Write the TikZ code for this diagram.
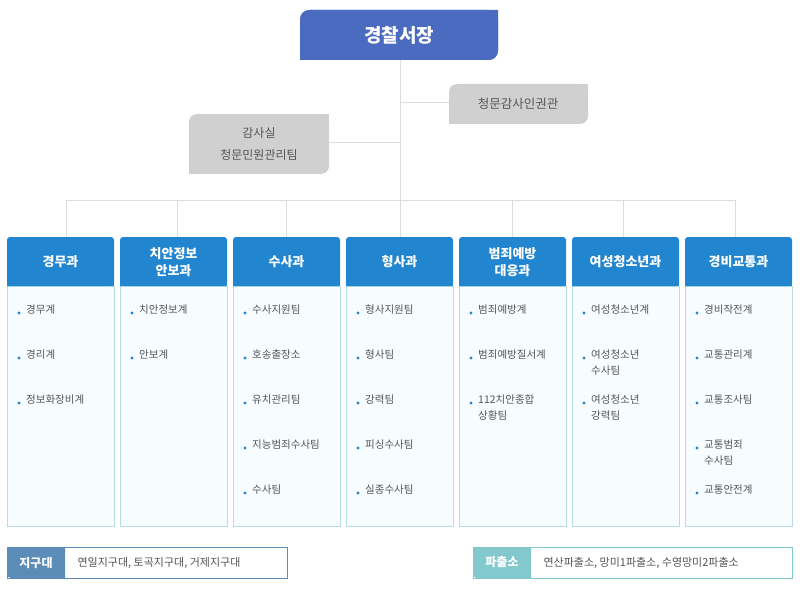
\documentclass[tikz,border=0pt]{standalone}
\usepackage{fontspec}
\setmainfont{Noto Sans CJK KR}
\definecolor{chief}{HTML}{4A6BBF}
\definecolor{hdr}{HTML}{2185CF}
\definecolor{bodyf}{HTML}{F7FDFE}
\definecolor{bodyd}{HTML}{B5DDE3}
\definecolor{grayb}{HTML}{D0D0D0}
\definecolor{txt}{HTML}{555555}
\definecolor{lnc}{HTML}{DDDDDD}
\definecolor{dot}{HTML}{2185CF}
\definecolor{jig}{HTML}{5B8DB8}
\definecolor{pac}{HTML}{82C8CC}
\begin{document}
\begin{tikzpicture}[x=1pt,y=-1pt,
  conn/.style={draw=lnc,line width=0.9pt},
  hdrtext/.style={text=white,font=\fontsize{13}{17}\selectfont\bfseries,align=center},
  item/.style={text=txt,font=\fontsize{10.5}{16}\selectfont,align=left,anchor=north west,inner sep=0pt},
  graytext/.style={text=txt,font=\fontsize{12.5}{22}\selectfont,align=center}]
\useasboundingbox (0,0) rectangle (800,599);
% connectors
\coordinate (top) at (400,60);
\coordinate (hub) at (400,200);
\draw[conn] (top) -- (400,237);
\draw[conn] (66,200) -- (735,200);
\foreach \x in {66,177,286,512,623,735} \draw[conn] (\x,200) -- (\x,237);
\draw[conn] (400,102) -- (449,102);
\draw[conn] (329,142) -- (400,142);
% chief
\fill[chief,rounded corners=9pt] (300,60) -- (300,10) [sharp corners]-- (498,10) -- (498,50) [rounded corners=9pt] -- (498,60) [sharp corners] -- cycle;
\fill[chief] (300,30) rectangle (320,60);
\fill[chief] (300,10) [rounded corners=9pt] -- (300,10) ;
\path[fill=chief,rounded corners=10pt] (300,60) |- (498,10) |- cycle;
\fill[chief] (488,10) rectangle (498,30);
\fill[chief] (300,50) rectangle (320,60);
\node[text=white,font=\fontsize{19}{22}\selectfont\bfseries] (chief) at (399,35) {경찰서장};
% gray boxes
\path[fill=grayb,rounded corners=8pt] (449,124) |- (588,84) |- cycle;
\fill[grayb] (578,84) rectangle (588,95);
\fill[grayb] (449,114) rectangle (460,124);
\node[graytext] (cm) at (518,104) {청문감사인권관};
\path[fill=grayb,rounded corners=8pt] (189,174) |- (329,114) |- cycle;
\fill[grayb] (319,114) rectangle (329,125);
\fill[grayb] (189,164) rectangle (200,174);
\node[graytext,font=\fontsize{12}{22}\selectfont] (gs) at (259,144) {감사실\\청문민원관리팀};
% columns
\foreach \i/\x/\t in {1/7/경무과,2/120/{치안정보\\안보과},3/233/수사과,4/346/형사과,5/459/{범죄예방\\대응과},6/572/여성청소년과,7/685/경비교통과}{
  \path[fill=bodyf,draw=bodyd,line width=0.8pt] (\x,286) rectangle ++(107,240);
  \path[fill=hdr,rounded corners=3pt] (\x,286) -- (\x,237) -- ++(107,0) -- ++(0,49) [sharp corners] -- cycle;
  \fill[hdr] (\x,270) rectangle ++(107,16);
  \node[hdrtext] (h\i) at ({\x+53.5},262) {\t};
}
\newcommand\itm[4]{\fill[dot] (#1+12,#2) circle (1.6pt); \node[item] (#3) at (#1+19,#2-8) {#4};}
\itm{7}{313}{a1}{경무계}
\itm{7}{358}{a2}{경리계}
\itm{7}{403}{a3}{정보화장비계}
\itm{120}{313}{b1}{치안정보계}
\itm{120}{358}{b2}{안보계}
\itm{233}{313}{c1}{수사지원팀}
\itm{233}{358}{c2}{호송출장소}
\itm{233}{403}{c3}{유치관리팀}
\itm{233}{448}{c4}{지능범죄수사팀}
\itm{233}{493}{c5}{수사팀}
\itm{346}{313}{d1}{형사지원팀}
\itm{346}{358}{d2}{형사팀}
\itm{346}{403}{d3}{강력팀}
\itm{346}{448}{d4}{피싱수사팀}
\itm{346}{493}{d5}{실종수사팀}
\itm{459}{313}{e1}{범죄예방계}
\itm{459}{358}{e2}{범죄예방질서계}
\itm{459}{403}{e3}{112치안종합\\상황팀}
\itm{572}{313}{f1}{여성청소년계}
\itm{572}{358}{f2}{여성청소년\\수사팀}
\itm{572}{403}{f3}{여성청소년\\강력팀}
\itm{685}{313}{g1}{경비작전계}
\itm{685}{358}{g2}{교통관리계}
\itm{685}{403}{g3}{교통조사팀}
\itm{685}{448}{g4}{교통범죄\\수사팀}
\itm{685}{493}{g5}{교통안전계}
% bottom
\path[fill=white,draw=jig,line width=0.8pt] (7,547) rectangle (287,578);
\path[fill=jig,rounded corners=4pt] (65,578) -- (7,578) -- (7,547) [sharp corners] -- (65,547) -- cycle;
\node[text=white,font=\fontsize{12}{14}\selectfont\bfseries] (jg) at (36,562.5) {지구대};
\node[text=txt,font=\fontsize{11}{14}\selectfont,anchor=west] (jgl) at (74,562.5) {연일지구대, 토곡지구대, 거제지구대};
\path[fill=white,draw=pac,line width=0.8pt] (473,547) rectangle (792,578);
\path[fill=pac,rounded corners=4pt] (531,578) -- (473,578) -- (473,547) [sharp corners] -- (531,547) -- cycle;
\node[text=white,font=\fontsize{12}{14}\selectfont\bfseries] (pc) at (502,562.5) {파출소};
\node[text=txt,font=\fontsize{11}{14}\selectfont,anchor=west] (pcl) at (540,562.5) {연산파출소, 망미1파출소, 수영망미2파출소};
\end{tikzpicture}
\end{document}
